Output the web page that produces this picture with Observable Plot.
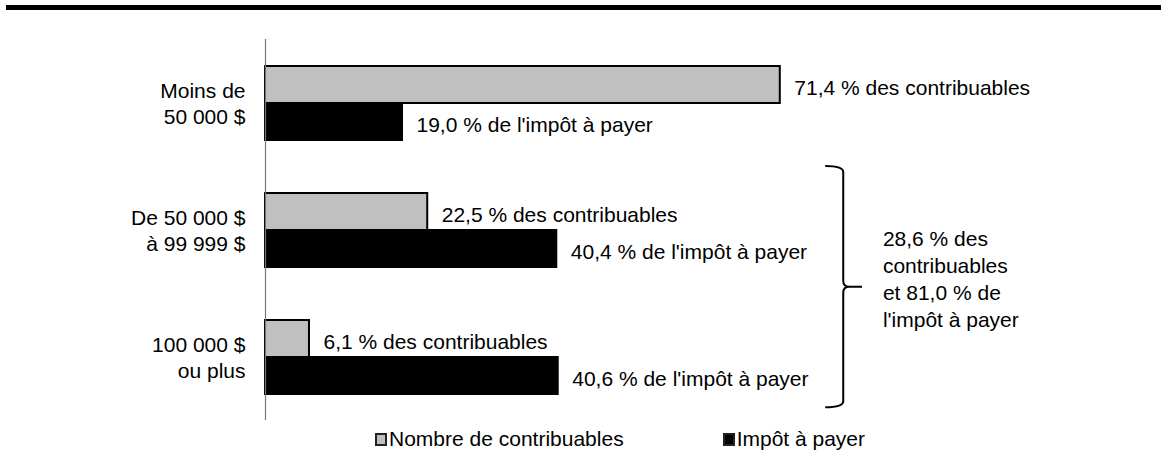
<!DOCTYPE html>
<html>
<head>
<meta charset="utf-8">
<script src="https://cdn.jsdelivr.net/npm/d3@7"></script>
<script src="https://cdn.jsdelivr.net/npm/@observablehq/plot@0.6"></script>
<style>
  body { margin: 0; background: #fff; font-family: "Liberation Sans", Arial, sans-serif; }
  #rule { position: absolute; left: 6px; right: 0; top: 5px; height: 5px; background: #000; }
  #chart { position: absolute; left: 0; top: 10px; }
  #legend { position: absolute; top: 427px; left: 375px; display: flex; align-items: center; font-size: 21px; color: #000; white-space: nowrap; }
  .item { display: flex; align-items: center; }
  .sw { width: 8px; height: 9px; border: 2px solid #222; margin-right: 2px; }
</style>
</head>
<body>
<div id="rule"></div>
<div id="chart"></div>
<div id="legend"></div>
<script>
// ---- data ----
const categories = ["Moins de 50 000 $", "De 50 000 $ à 99 999 $", "100 000 $ ou plus"];
const categoryLabels = ["Moins de\n50 000 $", "De 50 000 $\nà 99 999 $", "100 000 $\nou plus"];
const series = ["Nombre de contribuables", "Impôt à payer"];
const seriesColors = ["#c0c0c0", "#000000"];
const contribuables = [71.4, 22.5, 6.1];
const impot = [19.0, 40.4, 40.6];
const labelSuffix = ["% des contribuables", "% de l'impôt à payer"];
const braceText = ["28,6 % des", "contribuables", "et 81,0 % de", "l'impôt à payer"];
const braceX = [77.7, 80.2, 82.8, 85.7]; // hook, spine, tip, text (x units, %)

(function () {
const FONT = '"Liberation Sans", Arial, sans-serif';
const fmt = v => d3.format(".1f")(v).replace(".", ",");

const data = [];
categories.forEach((c, i) => {
  [contribuables, impot].forEach((arr, s) => {
    data.push({category: c, series: series[s], value: arr[i], label: fmt(arr[i]) + " " + labelSuffix[s]});
  });
});
const labelOf = Object.fromEntries(categories.map((c, i) => [c, categoryLabels[i]]));

const chart = Plot.plot({
  width: 1161,
  height: 415,
  marginLeft: 265,
  marginRight: 175,
  marginTop: 28,
  marginBottom: 5,
  style: {fontFamily: FONT, fontSize: "21px", background: "#fff", color: "#000"},
  x: {domain: [0, 100], axis: null},
  y: {domain: series, paddingInner: 0, paddingOuter: 0.7, axis: null},
  fy: {domain: categories, padding: 0, label: null},
  color: {domain: series, range: seriesColors},
  marks: [
    Plot.axisFy({anchor: "left", tickSize: 0, tickPadding: 20, fontSize: 21, lineHeight: 1.24, label: null, tickFormat: d => labelOf[d]}),
    Plot.barX(data, {x: "value", y: "series", fy: "category", fill: "series", stroke: "#000", strokeWidth: 2}),
    Plot.ruleX([0], {stroke: "#777", strokeWidth: 1.2}),
    Plot.text(data, {x: "value", y: "series", fy: "category", text: "label", textAnchor: "start", dx: 14, dy: 3, fontSize: 21, fill: "#000"})
  ]
});
document.getElementById("chart").append(chart);

// ---- brace annotation using the plot's scales ----
const xs = chart.scale("x"), fys = chart.scale("fy");
const bw = fys.bandwidth ?? ((fys.range[1] - fys.range[0]) / categories.length);
const yTop = fys.apply(categories[1]);
const yBot = fys.apply(categories[2]) + bw * 0.9;
const yMid = (yTop + yBot) / 2;
const xl = xs.apply(braceX[0]), xv = xs.apply(braceX[1]), xt = xs.apply(braceX[2]), xtext = xs.apply(braceX[3]);
const r = 6;
const svg = d3.select(chart);
svg.append("path")
  .attr("fill", "none").attr("stroke", "#000").attr("stroke-width", 2)
  .attr("d", `M${xl},${yTop} Q${xv},${yTop} ${xv},${yTop + r} L${xv},${yMid - r} Q${xv},${yMid} ${xv + r},${yMid} L${xt},${yMid} M${xv + r},${yMid} Q${xv},${yMid} ${xv},${yMid + r} L${xv},${yBot - r} Q${xv},${yBot} ${xl},${yBot}`);
const t = svg.append("text").attr("font-family", FONT).attr("font-size", 21).attr("fill", "#000").attr("text-anchor", "start");
braceText.forEach((s, i) => {
  t.append("tspan").attr("x", xtext).attr("y", yMid - 8 + (i - 1.5) * 27).attr("dy", "0.35em").text(s);
});

// ---- legend ----
const legend = d3.select("#legend");
series.forEach((s, i) => {
  const it = legend.append("div").attr("class", "item").style("margin-right", i === 0 ? "99px" : "0");
  it.append("div").attr("class", "sw").style("background", seriesColors[i]);
  it.append("span").text(s);
});
})();
</script>
</body>
</html>
